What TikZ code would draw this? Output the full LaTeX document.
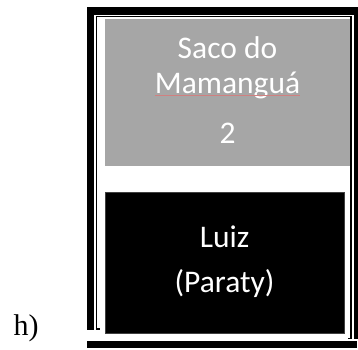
\documentclass[tikz,border=0pt]{standalone}
\usepackage{fontspec}
\setmainfont{Carlito}
\newfontfamily\serifh{Liberation Serif}
\definecolor{boxgray}{HTML}{A6A6A6}
\definecolor{squiggle}{HTML}{D08080}
\begin{document}
\begin{tikzpicture}[x=1pt,y=-1pt,
  boxtext/.style={text=white,font=\fontsize{31.5}{36}\selectfont,anchor=base,inner sep=0pt},
  framebar/.style={fill=black},
  thinframe/.style={draw=black,line width=1.4pt},
  panel/.style={inner sep=0pt,anchor=north west}]
\useasboundingbox (0,0) rectangle (358,349);
\fill[white] (0,0) rectangle (358,349);
% outer thick frame
\fill[framebar] (87,7) rectangle (358,15);
\fill[framebar] (87,7) rectangle (94,329.5);
\fill[framebar] (354,7) rectangle (358,339);
\fill[framebar] (87,340.7) rectangle (357,348.3);
% inner thin frame
\draw[thinframe] (99.5,329) -- (96.7,329) -- (96.7,16.7) -- (350.8,16.7) -- (350.8,338.5) -- (348.3,338.5);
% panels
\node[panel,fill=boxgray,minimum width=244.5pt,minimum height=146.7pt] (sacobox) at (105,19) {};
\node[panel,fill=black,draw=black!75,line width=0.8pt,minimum width=239pt,minimum height=141pt] (luizbox) at (105,192.3) {};
% texts
\node[boxtext] (saco) at (227.5,58.3) {Saco do};
\node[boxtext] (mamangua) at (227.5,93.3) {Mamanguá};
\node[boxtext] (num) at (227.5,143.3) {2};
\draw[squiggle,line width=0.5pt] ([yshift=-2.3pt]mamangua.base west) -- ([yshift=-2.3pt]mamangua.base east);
\node[boxtext] (luiz) at (224.5,247.3) {Luiz};
\node[boxtext] (paraty) at (224.5,292) {(Paraty)};
\node[anchor=base west,inner sep=0pt,font=\serifh\fontsize{30}{34}\selectfont] (label) at (13.5,335) {h)};
\end{tikzpicture}
\end{document}
